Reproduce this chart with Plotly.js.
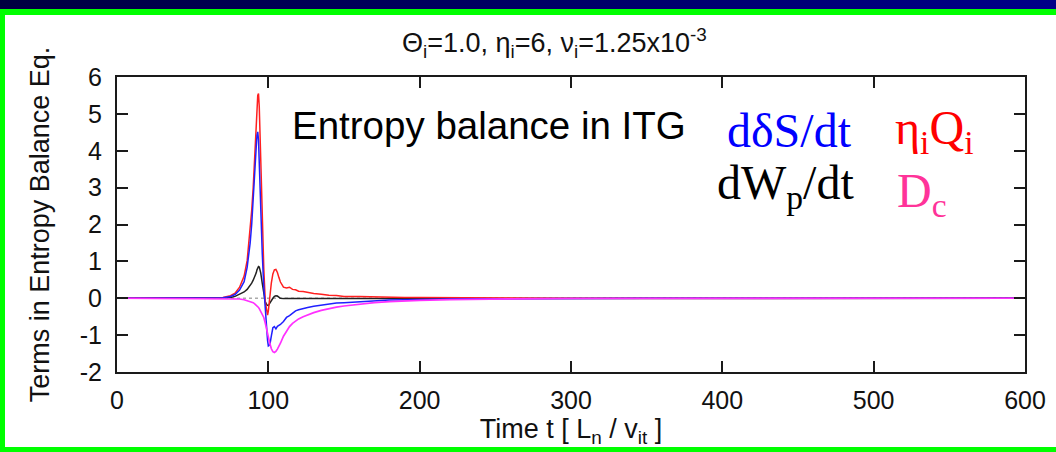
<!DOCTYPE html>
<html>
<head>
<meta charset="utf-8">
<script src="https://cdn.plot.ly/plotly-3.0.1.min.js"></script>
<style>
  html, body { margin: 0; padding: 0; background: #ffffff; }
  #frame { position: relative; width: 1056px; height: 452px; background: #ffffff; overflow: hidden; }
  #topbar { position: absolute; left: 0; top: 0; width: 1056px; height: 9px; background: linear-gradient(to right, #000040, #000088); }
  #greentop { position: absolute; left: 0; top: 9px; width: 1056px; height: 6px; background: #00ff00; }
  #greenleft { position: absolute; left: 0; top: 9px; width: 5px; height: 443px; background: #00ff00; }
  #greenbottom { position: absolute; left: 0; top: 447px; width: 1056px; height: 5px; background: #00ff00; }
  #chart { position: absolute; left: 0; top: 0; width: 1056px; height: 452px; }
</style>
</head>
<body>
<div id="frame">
  <div id="topbar"></div>
  <div id="greentop"></div>
  <div id="greenleft"></div>
  <div id="greenbottom"></div>
  <div id="chart"></div>
</div>
<script>
// Time axis samples [L_n / v_it]
const time = [0, 60, 65, 70, 75, 78, 81, 84, 86, 88,
  89, 90, 91, 92, 92.5, 93, 93.5, 94, 95, 96,
  97, 98, 99, 99.5, 100, 101, 102, 103, 104, 105,
  106, 107, 108, 110, 112, 114, 116, 118, 120, 123,
  126, 130, 135, 140, 145, 150, 160, 170, 180, 190,
  200, 220, 240, 260, 300, 350, 400, 500, 600];

// eta_i Q_i (red)
const etaQ = [0, 0, 0.005, 0.02, 0.07, 0.14, 0.3, 0.6, 1.02, 1.8,
  2.38, 3.0, 3.9, 4.7, 5.2, 5.5, 5.55, 5.2, 3.74, 2.1,
  0.8, -0.1, -0.42, -0.46, -0.35, 0.1, 0.42, 0.66, 0.77, 0.78,
  0.7, 0.56, 0.44, 0.3, 0.28, 0.3, 0.24, 0.23, 0.19, 0.18,
  0.15, 0.13, 0.11, 0.08, 0.075, 0.05, 0.045, 0.03, 0.03, 0.02,
  0.02, 0.012, 0.01, 0.006, 0.003, 0.001, 0, 0, 0];

// d(delta S)/dt (blue)
const dSdt = [0, 0, 0.003, 0.012, 0.05, 0.1, 0.22, 0.45, 0.84, 1.5,
  2.0, 2.6, 3.4, 4.1, 4.42, 4.51, 4.3, 3.6, 2.4, 1.2,
  0.3, -0.4, -0.95, -1.15, -1.29, -1.26, -1.02, -0.8, -0.77, -0.83,
  -0.76, -0.74, -0.71, -0.63, -0.52, -0.47, -0.41, -0.34, -0.31, -0.27,
  -0.25, -0.22, -0.19, -0.15, -0.13, -0.12, -0.09, -0.065, -0.05, -0.04,
  -0.03, -0.02, -0.013, -0.008, -0.004, -0.002, 0, 0, 0];

// dW_p/dt (black)
const dWpdt = [0, 0, 0, 0.005, 0.02, 0.05, 0.1, 0.17, 0.24, 0.34,
  0.41, 0.49, 0.58, 0.69, 0.77, 0.83, 0.86, 0.85, 0.68, 0.4,
  0.1, -0.1, -0.18, -0.2, -0.2, -0.13, -0.05, 0.0, 0.05, 0.07,
  0.06, 0.02, 0.0, -0.01, -0.01, -0.015, -0.01, -0.01, -0.012, -0.01,
  -0.01, -0.008, -0.008, -0.006, -0.006, -0.005, -0.004, -0.003, -0.003, -0.002,
  -0.002, -0.001, -0.001, 0, 0, 0, 0, 0, 0];

// D_c (magenta)
const Dc = [0, 0, 0, 0, -0.005, -0.01, -0.02, -0.04, -0.06, -0.08,
  -0.1, -0.12, -0.15, -0.18, -0.2, -0.22, -0.25, -0.28, -0.35, -0.42,
  -0.52, -0.68, -0.88, -0.97, -1.06, -1.23, -1.37, -1.45, -1.47, -1.44,
  -1.38, -1.31, -1.22, -1.03, -0.89, -0.77, -0.68, -0.61, -0.56, -0.5,
  -0.45, -0.39, -0.33, -0.28, -0.24, -0.21, -0.16, -0.12, -0.09, -0.07,
  -0.055, -0.035, -0.022, -0.015, -0.007, -0.003, -0.001, 0, 0];

// reference zero line (gray dotted)
const zeroT = [0, 600];
const zeroV = [0, 0];

const xTicks = [0, 100, 200, 300, 400, 500, 600];
const yTicks = [-2, -1, 0, 1, 2, 3, 4, 5, 6];

const sans = "Liberation Sans, Arial, Helvetica, sans-serif";
const serif = "Liberation Serif, Times New Roman, serif";

const traces = [
  {x: zeroT, y: zeroV, mode: 'lines', line: {color: '#aaaaaa', width: 1.5, dash: 'dot'}, hoverinfo: 'skip'},
  {x: time, y: dWpdt, mode: 'lines', line: {color: '#222222', width: 1.5}},
  {x: time, y: etaQ, mode: 'lines', line: {color: '#ff2020', width: 1.5}},
  {x: time, y: dSdt, mode: 'lines', line: {color: '#2020ff', width: 1.5}},
  {x: time, y: Dc, mode: 'lines', line: {color: '#ff30ff', width: 1.7}}
];

const axisCommon = {
  showline: true, linecolor: '#1a1a1a', linewidth: 2, mirror: 'allticks',
  ticks: 'inside', ticklen: 11, tickwidth: 2, tickcolor: '#1a1a1a',
  showgrid: false, zeroline: false,
  tickfont: {family: sans, size: 25, color: '#111'}
};

const layout = {
  width: 1056, height: 452,
  margin: {l: 117, r: 31, t: 77, b: 80},
  paper_bgcolor: 'rgba(0,0,0,0)', plot_bgcolor: '#ffffff',
  showlegend: false,
  title: {
    text: 'Θ<sub>i</sub>=1.0, η<sub>i</sub>=6, ν<sub>i</sub>=1.25x10<sup>-3</sup>',
    font: {family: sans, size: 27, color: '#111'},
    xref: 'container', x: 0.525, xanchor: 'center',
    yref: 'container', y: 0.905, yanchor: 'middle'
  },
  xaxis: Object.assign({}, axisCommon, {
    range: [0, 600], tickvals: xTicks, ticktext: xTicks.map(String),
    ticklabelstandoff: 5,
    title: {text: 'Time t [ L<sub>n</sub> / v<sub>it</sub> ]', font: {family: sans, size: 27, color: '#111'}, standoff: 2}
  }),
  yaxis: Object.assign({}, axisCommon, {
    range: [-2, 6], tickvals: yTicks, ticktext: yTicks.map(String),
    ticklabelstandoff: 8,
    title: {text: 'Terms in Entropy Balance Eq.', font: {family: sans, size: 27, color: '#111'}, standoff: 22}
  }),
  annotations: [
    {text: 'Entropy balance in ITG', xref: 'paper', yref: 'paper', x: 0.19, y: 0.837,
     xanchor: 'left', yanchor: 'middle', showarrow: false, font: {family: sans, size: 38.5, color: '#000'}},
    {text: 'dδS/dt', xref: 'paper', yref: 'paper', x: 0.741, y: 0.82,
     xanchor: 'center', yanchor: 'middle', showarrow: false, font: {family: serif, size: 48, color: '#0000ff'}},
    {text: 'η<sub>i</sub>Q<sub>i</sub>', xref: 'paper', yref: 'paper', x: 0.9, y: 0.818,
     xanchor: 'center', yanchor: 'middle', showarrow: false, font: {family: serif, size: 48, color: '#ff0000'}},
    {text: 'dW<sub>p</sub>/dt', xref: 'paper', yref: 'paper', x: 0.7357, y: 0.63,
     xanchor: 'center', yanchor: 'middle', showarrow: false, font: {family: serif, size: 48, color: '#000000'}},
    {text: 'D<sub>c</sub>', xref: 'paper', yref: 'paper', x: 0.887, y: 0.605,
     xanchor: 'center', yanchor: 'middle', showarrow: false, font: {family: serif, size: 48, color: '#ff3399'}}
  ]
};

Plotly.newPlot('chart', traces, layout, {staticPlot: true, displayModeBar: false});
</script>
</body>
</html>
